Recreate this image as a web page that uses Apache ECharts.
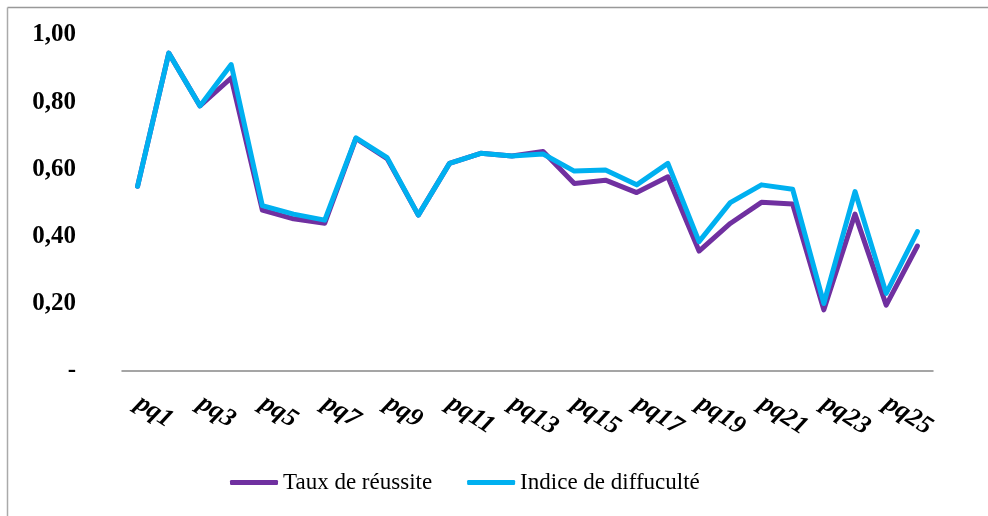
<!DOCTYPE html>
<html>
<head>
<meta charset="utf-8">
<script src="https://cdn.jsdelivr.net/npm/echarts@6/dist/echarts.min.js"></script>
<style>html,body{margin:0;padding:0;background:#fff;}#c{width:988px;height:516px;}</style>
</head>
<body>
<div id="c"></div>
<script>
var categories = ['pq1','pq2','pq3','pq4','pq5','pq6','pq7','pq8','pq9','pq10','pq11','pq12','pq13','pq14','pq15','pq16','pq17','pq18','pq19','pq20','pq21','pq22','pq23','pq24','pq25','pq26'];
var tauxReussite = [0.55,0.946,0.789,0.872,0.479,0.453,0.44,0.692,0.632,0.464,0.618,0.648,0.64,0.653,0.558,0.568,0.531,0.578,0.357,0.439,0.502,0.497,0.182,0.467,0.196,0.372];
var indiceDifficulte = [0.55,0.946,0.789,0.912,0.492,0.467,0.449,0.694,0.635,0.464,0.618,0.648,0.64,0.646,0.595,0.598,0.554,0.618,0.385,0.501,0.554,0.541,0.201,0.534,0.231,0.415];
var seriesNames = ['Taux de réussite','Indice de diffuculté'];

var chart = echarts.init(document.getElementById('c'));
chart.setOption({
  animation: false,
  backgroundColor: '#fff',
  graphic: [
    {type:'line', shape:{x1:7.5,y1:7.5,x2:988,y2:7.5}, style:{stroke:'#999',lineWidth:1.5}},
    {type:'line', shape:{x1:7.5,y1:7.5,x2:7.5,y2:516}, style:{stroke:'#aaa',lineWidth:1.5}}
  ],
  grid: {left:122, right:55, top:35, bottom:145, containLabel:false},
  legend: {
    top: 466,
    left: 225,
    itemWidth: 48,
    itemHeight: 5,
    itemGap: 35,
    icon: 'roundRect',
    textStyle: {fontFamily:'Liberation Serif', fontSize:23, color:'#000', padding:[0,0,0,0]},
    data: seriesNames
  },
  xAxis: {
    type: 'category',
    data: categories,
    boundaryGap: true,
    axisLine: {show:true, lineStyle:{color:'#888', width:1.5}},
    axisTick: {show:false},
    axisLabel: {
      interval: 1,
      rotate: -33,
      margin: 30,
      fontFamily: 'Liberation Serif',
      fontWeight: 'bold',
      fontStyle: 'italic',
      fontSize: 26,
      color: '#000'
    },
    splitLine: {show:false}
  },
  yAxis: {
    type: 'value',
    min: 0,
    max: 1,
    interval: 0.2,
    axisLine: {show:false},
    axisTick: {show:false},
    splitLine: {show:false},
    axisLabel: {
      margin: 46,
      fontFamily: 'Liberation Serif',
      fontWeight: 'bold',
      fontSize: 25,
      color: '#000',
      formatter: function(v){ return v === 0 ? '-' : v.toFixed(2).replace('.', ','); }
    }
  },
  series: [
    {name: seriesNames[0], type:'line', data: tauxReussite, symbol:'none', smooth:false,
     lineStyle:{color:'#7030A0', width:5, cap:'round', join:'round'}, itemStyle:{color:'#7030A0'}},
    {name: seriesNames[1], type:'line', data: indiceDifficulte, symbol:'none', smooth:false,
     lineStyle:{color:'#00B0F0', width:5, cap:'round', join:'round'}, itemStyle:{color:'#00B0F0'}}
  ]
});
</script>
</body>
</html>
